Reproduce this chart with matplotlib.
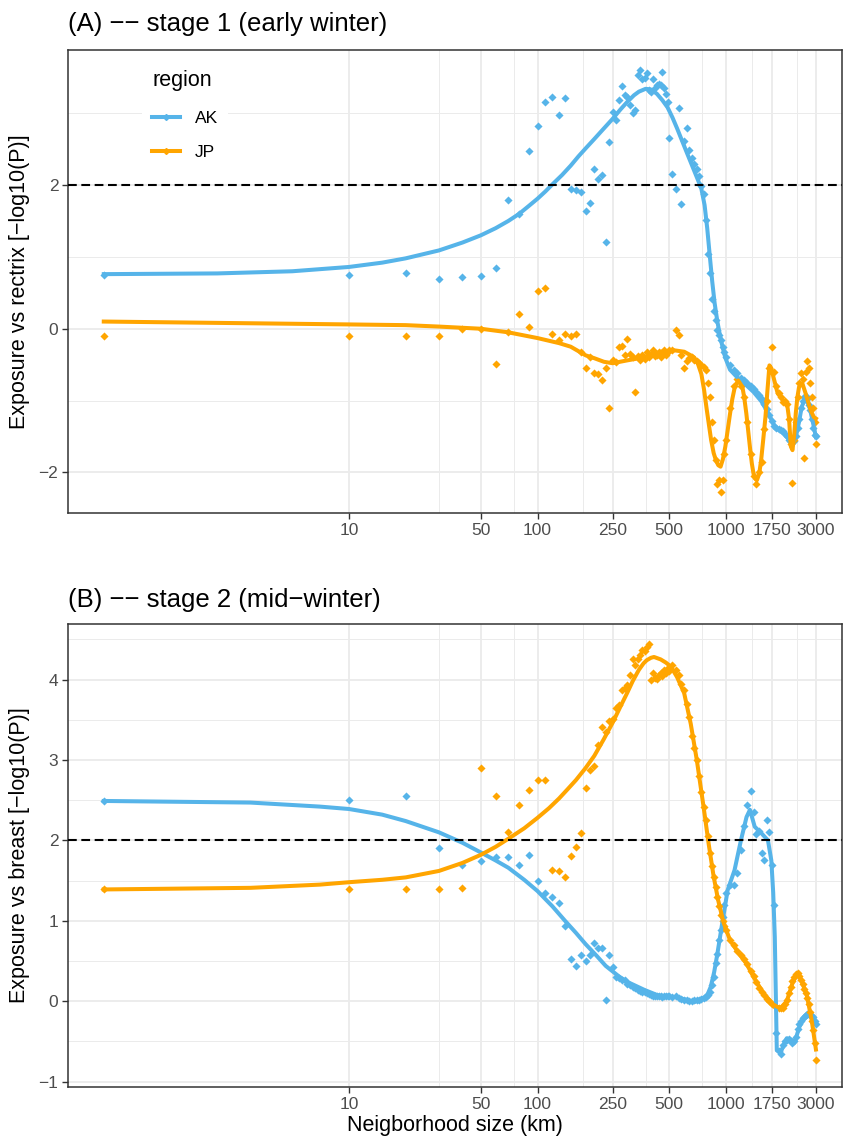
import matplotlib
matplotlib.use("Agg")
import matplotlib.pyplot as plt
from matplotlib.lines import Line2D
from matplotlib.ticker import NullFormatter

plt.rcParams['font.family'] = ['Liberation Sans', 'DejaVu Sans']

# neighborhood sizes (km) shared by all four point series
size_km = [0.5,
           10, 20, 30, 40, 50, 60, 70, 80, 90, 100,
           110, 120, 130, 140, 150, 160, 170, 180, 190, 200,
           210, 220, 230, 240, 250, 260, 270, 280, 290, 300,
           310, 320, 330, 340, 350, 360, 370, 380, 390, 400,
           410, 420, 430, 440, 450, 460, 470, 480, 490, 500,
           520, 540, 560, 580, 600, 620, 640, 660, 680, 700,
           720, 740, 760, 780, 800, 820, 840, 860, 880, 900,
           920, 940, 960, 980, 1000,
           1050, 1100, 1150, 1200, 1250, 1300, 1350, 1400, 1450, 1500,
           1550, 1600, 1650, 1700, 1750, 1800, 1850, 1900, 1950, 2000,
           2050, 2100, 2150, 2200, 2250, 2300, 2350, 2400, 2450, 2500,
           2550, 2600, 2650, 2700, 2750, 2800, 2850, 2900, 2950, 3000]

# (A) stage 1, exposure vs rectrix
rectrix_AK = [0.75,
              0.75, 0.77, 0.69, 0.72, 0.73, 0.84, 1.79, 1.60, 2.47, 2.82,
              3.16, 3.22, 2.97, 3.21, 1.95, 1.93, 1.91, 1.64, 1.75, 2.23,
              2.09, 2.14, 1.21, 2.60, 3.01, 2.90, 3.18, 3.38, 3.25, 3.23,
              3.11, 3.00, 3.05, 3.53, 3.60, 3.47, 3.49, 3.56, 3.33, 3.30,
              3.47, 3.35, 3.39, 3.41, 3.39, 3.57, 3.35, 3.27, 3.16, 2.65,
              2.16, 1.95, 3.07, 1.74, 2.62, 2.80, 2.49, 2.37, 2.30, 2.23,
              2.12, 1.98, 1.88, 1.51, 1.04, 0.77, 0.42, 0.24, 0.12, -0.02,
              -0.09, -0.16, -0.25, -0.32, -0.39,
              -0.51, -0.57, -0.62, -0.68, -0.71, -0.76, -0.80, -0.84, -0.88, -0.92,
              -0.98, -1.05, -1.12, -1.20, -1.28, -1.36, -1.38, -1.40, -1.41, -1.43,
              -1.46, -1.50, -1.55, -1.58, -1.58, -1.56, -1.50, -1.38, -1.25, -1.10,
              -1.00, -0.95, -0.93, -0.98, -1.06, -1.13, -1.25, -1.38, -1.48, -1.50]
rectrix_JP = [-0.10,
              -0.10, -0.10, -0.10, -0.01, 0.00, -0.49, -0.04, 0.21, 0.02, 0.53,
              0.57, -0.08, -0.15, -0.07, -0.10, -0.07, -0.32, -0.54, -0.40, -0.62,
              -0.63, -0.71, -0.55, -1.10, -0.43, -0.46, -0.25, -0.24, -0.37, -0.14,
              -0.35, -0.40, -0.88, -0.38, -0.43, -0.36, -0.42, -0.33, -0.40, -0.35,
              -0.30, -0.38, -0.37, -0.33, -0.39, -0.34, -0.30, -0.36, -0.32, -0.30,
              -0.29, -0.02, -0.09, -0.37, -0.55, -0.45, -0.41, -0.39, -0.43, -0.45,
              -0.48, -0.50, -0.53, -0.57, -0.75, -0.95, -1.30, -1.55, -1.83, -2.16,
              -2.10, -2.27, -2.11, -1.75, -1.55,
              -1.10, -0.80, -0.70, -0.80, -0.95, -1.30, -1.74, -2.05, -2.16, -2.00,
              -1.85, -1.40, -1.00, -0.55, -0.25, -0.60, -0.80, -0.90, -0.95, -1.02,
              -1.00, -1.05, -1.25, -1.60, -2.15, -1.55, -1.30, -0.95, -0.75, -0.62,
              -0.70, -1.80, -0.60, -0.45, -0.55, -0.75, -0.95, -1.10, -1.30, -1.60]

# (B) stage 2, exposure vs breast
breast_AK = [2.49,
             2.50, 2.55, 1.91, 1.70, 1.74, 1.79, 1.79, 1.70, 1.82, 1.49,
             1.34, 1.29, 1.22, 0.94, 0.52, 0.44, 0.58, 0.50, 0.58, 0.72,
             0.66, 0.66, 0.01, 0.58, 0.42, 0.30, 0.29, 0.27, 0.26, 0.22,
             0.20, 0.18, 0.16, 0.14, 0.13, 0.12, 0.12, 0.10, 0.09, 0.08,
             0.07, 0.07, 0.06, 0.06, 0.06, 0.05, 0.06, 0.07, 0.06, 0.06,
             0.05, 0.06, 0.04, 0.03, 0.02, 0.01, 0.00, 0.00, 0.01, 0.01,
             0.02, 0.03, 0.04, 0.05, 0.08, 0.12, 0.20, 0.30, 0.47, 0.59,
             0.76, 0.88, 1.05, 1.20, 1.34,
             1.44, 1.45, 1.60, 1.88, 2.18, 2.44, 2.62, 2.35, 2.08, 2.12,
             1.84, 1.75, 2.25, 2.10, 1.70, 1.20, -0.40, -0.62, -0.65, -0.55,
             -0.50, -0.48, -0.47, -0.50, -0.52, -0.50, -0.45, -0.35, -0.28, -0.24,
             -0.21, -0.19, -0.17, -0.16, -0.16, -0.17, -0.18, -0.20, -0.24, -0.28]
breast_JP = [1.40,
             1.39, 1.39, 1.39, 1.41, 2.90, 2.55, 2.10, 2.44, 2.63, 2.75,
             2.75, 1.63, 1.62, 1.55, 1.80, 1.92, 2.09, 2.65, 2.88, 2.92,
             3.18, 3.41, 3.35, 3.49, 3.51, 3.64, 3.68, 3.87, 3.90, 3.93,
             4.05, 4.26, 4.18, 4.25, 4.30, 4.37, 4.35, 4.41, 4.44, 3.99,
             4.08, 4.02, 4.01, 4.05, 4.08, 4.04, 4.12, 4.08, 4.14, 4.10,
             4.18, 4.12, 4.06, 3.95, 3.87, 3.70, 3.54, 3.30, 3.15, 3.00,
             2.80, 2.60, 2.42, 2.25, 2.05, 1.84, 1.68, 1.55, 1.42, 1.30,
             1.18, 1.07, 1.00, 0.94, 0.88,
             0.76, 0.70, 0.63, 0.57, 0.52, 0.46, 0.38, 0.31, 0.24, 0.17,
             0.12, 0.08, 0.03, 0.00, -0.03, -0.05, -0.07, -0.08, -0.09, -0.08,
             -0.04, 0.02, 0.10, 0.18, 0.25, 0.30, 0.34, 0.35, 0.32, 0.27,
             0.21, 0.15, 0.10, 0.04, -0.04, -0.13, -0.24, -0.36, -0.52, -0.73]

# smoothed curves
fitA_AK_km = [0.5, 2, 5, 10, 15, 20, 30, 40, 50, 60, 70, 80, 90, 100, 110, 120, 135, 150,
              165, 180, 200, 220, 250, 275, 300, 325, 345, 375, 400, 430, 460, 490, 520,
              550, 620, 710, 740, 770, 795, 820, 845, 870, 900, 940, 990, 1050, 1150,
              1250, 1400, 1540, 1680, 1820, 2050, 2250, 2350, 2440, 2520, 2600, 2680,
              2790, 2900, 3000]
fitA_AK = [0.76, 0.77, 0.80, 0.86, 0.92, 0.98, 1.09, 1.20, 1.30, 1.40, 1.50, 1.60, 1.71,
           1.81, 1.91, 2.01, 2.14, 2.27, 2.40, 2.51, 2.64, 2.76, 2.92, 3.05, 3.16, 3.25,
           3.30, 3.34, 3.33, 3.27, 3.18, 3.08, 2.94, 2.79, 2.45, 2.07, 1.95, 1.72, 1.40,
           1.02, 0.66, 0.36, 0.10, -0.16, -0.40, -0.57, -0.68, -0.76, -0.88, -1.01, -1.18,
           -1.37, -1.47, -1.60, -1.50, -1.30, -1.09, -1.00, -0.98, -1.12, -1.32, -1.51]
fitA_JP_km = [0.5, 10, 20, 30, 50, 70, 100, 130, 150, 180, 200, 225, 250, 300, 365, 450,
              530, 600, 650, 678, 710, 740, 765, 787, 810, 834, 860, 884, 910, 936, 962,
              992, 1020, 1051, 1080, 1114, 1160, 1222, 1250, 1282, 1315, 1345, 1372,
              1400, 1430, 1458, 1500, 1536, 1575, 1619, 1660, 1700, 1740, 1784, 1880,
              1996, 2120, 2160, 2208, 2253, 2300, 2345, 2390, 2441, 2541, 2645, 2809,
              2925, 3000]
fitA_JP = [0.10, 0.06, 0.05, 0.03, 0.00, -0.05, -0.13, -0.20, -0.25, -0.37, -0.41, -0.46,
           -0.48, -0.44, -0.40, -0.32, -0.30, -0.32, -0.37, -0.40, -0.49, -0.63, -0.85,
           -1.09, -1.32, -1.55, -1.73, -1.83, -1.90, -1.92, -1.82, -1.64, -1.42, -1.18,
           -0.98, -0.81, -0.72, -0.81, -0.96, -1.18, -1.45, -1.69, -1.88, -2.02, -2.09,
           -2.11, -2.02, -1.83, -1.55, -1.23, -0.85, -0.51, -0.55, -0.67, -0.90, -0.99,
           -1.09, -1.25, -1.64, -1.69, -1.48, -1.18, -0.96, -0.81, -0.76, -0.90, -1.13,
           -1.23, -1.25]
fitB_AK_km = [0.5, 3, 7, 10, 15, 20, 30, 40, 50, 60, 70, 85, 100, 120, 140, 160, 180, 205,
              230, 270, 300, 370, 450, 550, 680, 770, 800, 830, 865, 900, 955, 1020, 1110,
              1200, 1285, 1340, 1420, 1540, 1670, 1740, 1780, 1815, 1860, 1970, 2100, 2320,
              2450, 2600, 2800, 2900, 3000]
fitB_AK = [2.49, 2.47, 2.42, 2.39, 2.32, 2.24, 2.10, 1.97, 1.85, 1.75, 1.66, 1.51, 1.37,
           1.18, 1.00, 0.85, 0.71, 0.57, 0.44, 0.31, 0.24, 0.14, 0.06, 0.05, -0.01, 0.05,
           0.09, 0.18, 0.36, 0.59, 0.97, 1.38, 1.63, 2.00, 2.29, 2.38, 2.17, 2.09, 2.00,
           1.75, 1.35, 0.80, -0.61, -0.61, -0.46, -0.50, -0.32, -0.20, -0.18, -0.20, -0.28]
fitB_JP_km = [0.5, 3, 7, 10, 15, 20, 30, 40, 50, 60, 70, 85, 100, 115, 130, 145, 160, 180,
              200, 225, 250, 275, 300, 320, 345, 365, 380, 400, 415, 450, 480, 510, 550,
              600, 650, 700, 760, 810, 860, 910, 970, 1050, 1150, 1290, 1400, 1580, 1780,
              1940, 2100, 2250, 2390, 2520, 2680, 2850, 3000]
fitB_JP = [1.39, 1.41, 1.45, 1.48, 1.51, 1.54, 1.62, 1.72, 1.82, 1.92, 2.02, 2.15, 2.28,
           2.40, 2.52, 2.64, 2.75, 2.90, 3.05, 3.26, 3.46, 3.66, 3.84, 3.98, 4.12, 4.20,
           4.24, 4.27, 4.28, 4.25, 4.21, 4.16, 4.03, 3.83, 3.45, 3.00, 2.42, 1.95, 1.55,
           1.25, 0.98, 0.76, 0.62, 0.46, 0.30, 0.10, -0.04, -0.09, 0.00, 0.22, 0.35, 0.25,
           0.08, -0.24, -0.60]

x_breaks = [10, 50, 100, 250, 500, 1000, 1750, 3000]
x_labels = ['10', '50', '100', '250', '500', '1000', '1750', '3000']
x_minor = [30, 75, 175, 375, 750, 1375, 2375]
yA_breaks = [-2, 0, 2]
yA_labels = ['\u22122', '0', '2']
yA_minor = [-1, 1, 3]
yB_breaks = [-1, 0, 1, 2, 3, 4]
yB_labels = ['\u22121', '0', '1', '2', '3', '4']
yB_minor = [-0.5, 0.5, 1.5, 2.5, 3.5, 4.5]
regions = ['AK', 'JP']

blue = '#56B4E9'
orange = '#FFA500'
W, H = 843, 1138

fig = plt.figure(figsize=(W / 100, H / 100), dpi=100)
fig.patch.set_facecolor('white')


def panel(top, bottom):
    return fig.add_axes([68 / W, 1 - bottom / H, (842 - 68) / W, (bottom - top) / H])


def style(ax, ylim, ybr, ylab, ymin):
    ax.set_xscale('log')
    ax.set_xlim(0.323, 4125)
    ax.set_ylim(*ylim)
    ax.set_xticks(x_breaks, labels=x_labels)
    ax.set_xticks(x_minor, minor=True)
    ax.xaxis.set_minor_formatter(NullFormatter())
    ax.set_yticks(ybr, labels=ylab)
    ax.set_yticks(ymin, minor=True)
    ax.grid(which='major', color='#EBEBEB', lw=1.3)
    ax.grid(which='minor', color='#EBEBEB', lw=0.7)
    ax.set_axisbelow(True)
    ax.tick_params(which='major', length=4, width=1.0, color='#333333',
                   labelsize=12.5, labelcolor='#4D4D4D', pad=3)
    ax.tick_params(which='minor', length=0)
    for s in ax.spines.values():
        s.set_color('#333333')
        s.set_linewidth(1.1)
    ax.axhline(2, color='black', lw=1.5, ls=(0, (4.2, 2.2)), zorder=6)


def draw(ax, ak, jp, fak_x, fak, fjp_x, fjp):
    ax.scatter(size_km, ak, marker='D', s=17, color=blue, linewidths=0, zorder=3)
    ax.scatter(size_km, jp, marker='D', s=17, color=orange, linewidths=0, zorder=3)
    ax.plot(fak_x, fak, color=blue, lw=2.9, zorder=4, solid_joinstyle='round')
    ax.plot(fjp_x, fjp, color=orange, lw=2.9, zorder=4, solid_joinstyle='round')


axA = panel(50, 513)
style(axA, (-2.565, 3.88), yA_breaks, yA_labels, yA_minor)
draw(axA, rectrix_AK, rectrix_JP, fitA_AK_km, fitA_AK, fitA_JP_km, fitA_JP)

axB = panel(624, 1087)
style(axB, (-1.066, 4.69), yB_breaks, yB_labels, yB_minor)
draw(axB, breast_AK, breast_JP, fitB_AK_km, fitB_AK, fitB_JP_km, fitB_JP)

handles = [Line2D([0], [0], color=c, lw=2.9, marker='D', markersize=3)
           for c in (blue, orange)]
leg = axA.legend(handles, regions, title='region', loc='upper left',
                 bbox_to_anchor=((142 - 68) / 774, (513 - 60) / 463),
                 frameon=True, fancybox=False, framealpha=1, facecolor='white',
                 edgecolor='none', fontsize=12.5, title_fontsize=15.5,
                 handlelength=1.6, handletextpad=0.85, labelspacing=1.1,
                 borderpad=0.6, borderaxespad=0)
leg._legend_box.align = 'left'
leg.set_zorder(10)

fig.text(68 / W, 1 - 24 / H, '(A) \u2212\u2212 stage 1 (early winter)', fontsize=18.5,
         ha='left', va='center')
fig.text(68 / W, 1 - 600 / H, '(B) \u2212\u2212 stage 2 (mid\u2212winter)', fontsize=18.5,
         ha='left', va='center')
fig.text(20 / W, 1 - 281.5 / H, 'Exposure vs rectrix [\u2212log10(P)]', fontsize=15.5,
         rotation=90, ha='center', va='center')
fig.text(20 / W, 1 - 855.5 / H, 'Exposure vs breast [\u2212log10(P)]', fontsize=15.5,
         rotation=90, ha='center', va='center')
fig.text(455 / W, 1 - 1126 / H, 'Neigborhood size (km)', fontsize=15.5,
         ha='center', va='center')

fig.savefig('out.png', dpi=100)
